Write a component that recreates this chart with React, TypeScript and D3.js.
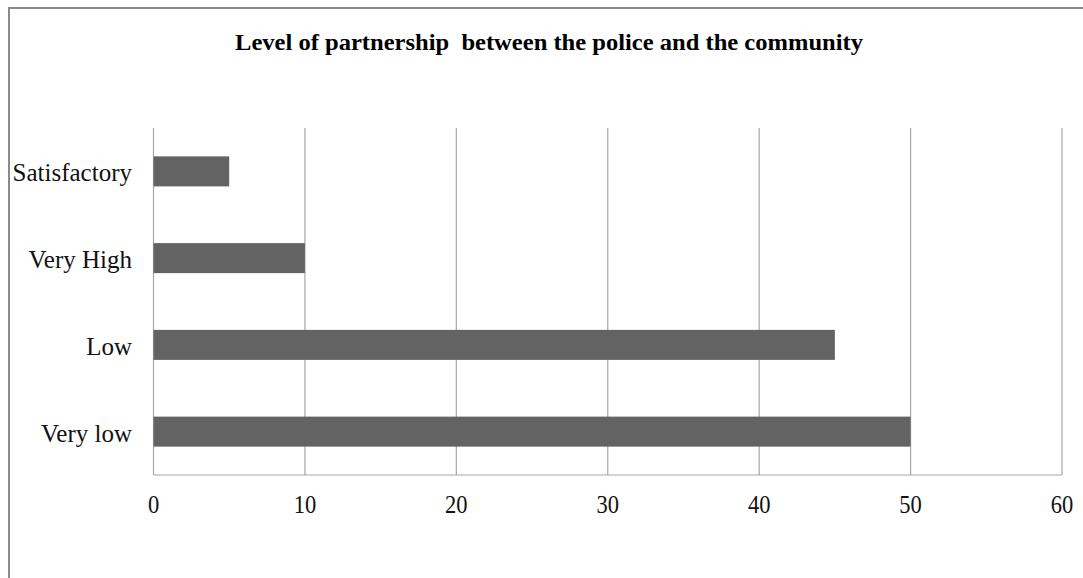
import React from "react";
import * as d3 from "d3";

const categories = ["Satisfactory", "Very High", "Low", "Very low"];
const values = [5, 10, 45, 50];
const xTicks = [0, 10, 20, 30, 40, 50, 60];
const title = "Level of partnership  between the police and the community";

export default function App() {
  const W = 1083, H = 578;
  const left = 153.5, right = 1062, top = 128, bottom = 475;
  const x = d3.scaleLinear().domain([0, 60]).range([left, right]);
  const y = d3.scaleBand<string>().domain(categories).range([top, bottom]).paddingInner(0.654).paddingOuter(0.327);
  const font = "'Liberation Serif', 'Times New Roman', serif";
  return (
    <svg width={W} height={H} style={{ position: "absolute", left: 0, top: 0, background: "#fff" }}>
      <rect x={9} y={8} width={1100} height={600} fill="#fff" stroke="#8a8a8a" strokeWidth={2} />
      <g transform="translate(549,50) scale(1,1.08)">
        <text x={0} y={0} textAnchor="middle" fontFamily={font} fontWeight="bold" fontSize={22}
          textLength={628} lengthAdjust="spacingAndGlyphs" style={{ whiteSpace: "pre" }} fill="#000">{title}</text>
      </g>
      {xTicks.map((t) => (
        <line key={"g" + t} x1={x(t)} x2={x(t)} y1={top} y2={bottom} stroke="#a6a6a6" strokeWidth={1.2} />
      ))}
      <line x1={left} x2={right} y1={bottom} y2={bottom} stroke="#a6a6a6" strokeWidth={1.2} />
      {categories.map((c, i) => (
        <rect key={c} x={x(0)} y={y(c)!} width={x(values[i]) - x(0)} height={y.bandwidth()} fill="#636363" />
      ))}
      {categories.map((c) => (
        <text key={"l" + c} x={132} y={y(c)! + y.bandwidth() / 2 + 10} textAnchor="end" fontFamily={font}
          fontSize={25} fill="#111">{c}</text>
      ))}
      {xTicks.map((t) => (
        <g key={"t" + t} transform={`translate(${x(t)},513) scale(0.9,1)`}>
          <text x={0} y={0} textAnchor="middle" fontFamily={font} fontSize={25} fill="#111">{t}</text>
        </g>
      ))}
    </svg>
  );
}
